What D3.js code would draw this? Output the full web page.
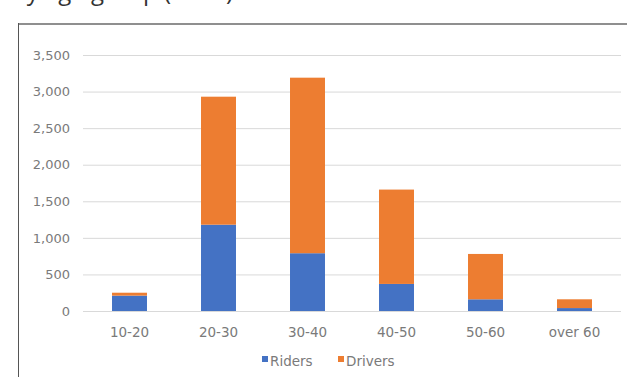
<!DOCTYPE html>
<html>
<head>
<meta charset="utf-8">
<script src="https://cdn.jsdelivr.net/npm/d3@7"></script>
<style>
  html, body { margin: 0; padding: 0; background: #fff; }
  svg { display: block; }
</style>
</head>
<body>
<svg id="chart" width="627" height="377"></svg>
<script>
// Age groups and counts per group
const categories = ["10-20", "20-30", "30-40", "40-50", "50-60", "over 60"];
const riders  = [210, 1180, 790, 370, 160, 40];
const drivers = [40, 1750, 2400, 1290, 620, 120];
const seriesNames = ["Riders", "Drivers"];
const yTicks = [0, 500, 1000, 1500, 2000, 2500, 3000, 3500];

const colors = { Riders: "#4472C4", Drivers: "#ED7D31" };
const labelFont = "'DejaVu Sans', Verdana, sans-serif";
const labelColor = "#7a7a7a";

const svg = d3.select("#chart");

// Heading line above the frame (only its lower part falls inside the view)
svg.append("text")
  .attr("x", 12)
  .attr("y", -0.5)
  .attr("font-family", "'Open Sans', sans-serif")
  .attr("font-size", 24)
  .attr("fill", "#333")
  .text("by age group (2017)");

// Frame around the chart
svg.append("line")
  .attr("x1", 18).attr("x2", 627).attr("y1", 24).attr("y2", 24)
  .attr("stroke", "#8f8f8f").attr("stroke-width", 2);
svg.append("line")
  .attr("x1", 18.5).attr("x2", 18.5).attr("y1", 23).attr("y2", 377)
  .attr("stroke", "#555").attr("stroke-width", 1);

const plot = { left: 85, right: 619, top: 55, bottom: 311 };

const x = d3.scaleBand()
  .domain(categories)
  .range([plot.left, plot.right])
  .paddingInner(0.607)
  .paddingOuter(0.3035);

const y = d3.scaleLinear()
  .domain([0, 3500])
  .range([plot.bottom, plot.top]);

// Value axis with gridlines
const yAxis = d3.axisLeft(y)
  .tickValues(yTicks)
  .tickSize(-(621 - 83))
  .tickPadding(13)
  .tickFormat(d3.format(","));

const gy = svg.append("g")
  .attr("transform", "translate(83,0)")
  .call(yAxis);
gy.select(".domain").remove();
gy.selectAll(".tick line").attr("stroke", "#d9d9d9").attr("stroke-width", 1);
gy.selectAll(".tick text")
  .attr("fill", labelColor)
  .attr("font-family", labelFont)
  .attr("font-size", 13);

// Stacked bars
const rows = categories.map((c, i) => ({ cat: c, Riders: riders[i], Drivers: drivers[i] }));
const stacked = d3.stack().keys(seriesNames)(rows);

svg.append("g").selectAll("g")
  .data(stacked)
  .join("g")
  .attr("fill", d => colors[d.key])
  .selectAll("rect")
  .data(d => d)
  .join("rect")
  .attr("x", d => x(d.data.cat))
  .attr("width", x.bandwidth())
  .attr("y", d => y(d[1]))
  .attr("height", d => y(d[0]) - y(d[1]));

// Category axis
const xAxis = d3.axisBottom(x).tickSize(0).tickPadding(16);
const gx = svg.append("g")
  .attr("transform", `translate(0,${plot.bottom})`)
  .call(xAxis);
gx.select(".domain").attr("stroke", "#d9d9d9");
gx.selectAll(".tick text")
  .attr("fill", labelColor)
  .attr("font-family", labelFont)
  .attr("font-size", 13.5);

// Legend
const legendItems = [
  { name: "Riders", x: 262 },
  { name: "Drivers", x: 338 }
];
const lg = svg.append("g");
legendItems.forEach(it => {
  lg.append("rect")
    .attr("x", it.x).attr("y", 356)
    .attr("width", 6).attr("height", 6)
    .attr("fill", colors[it.name]);
  lg.append("text")
    .attr("x", it.x + 8).attr("y", 366)
    .attr("fill", labelColor)
    .attr("font-family", labelFont)
    .attr("font-size", 13.5)
    .text(it.name);
});
</script>
</body>
</html>
